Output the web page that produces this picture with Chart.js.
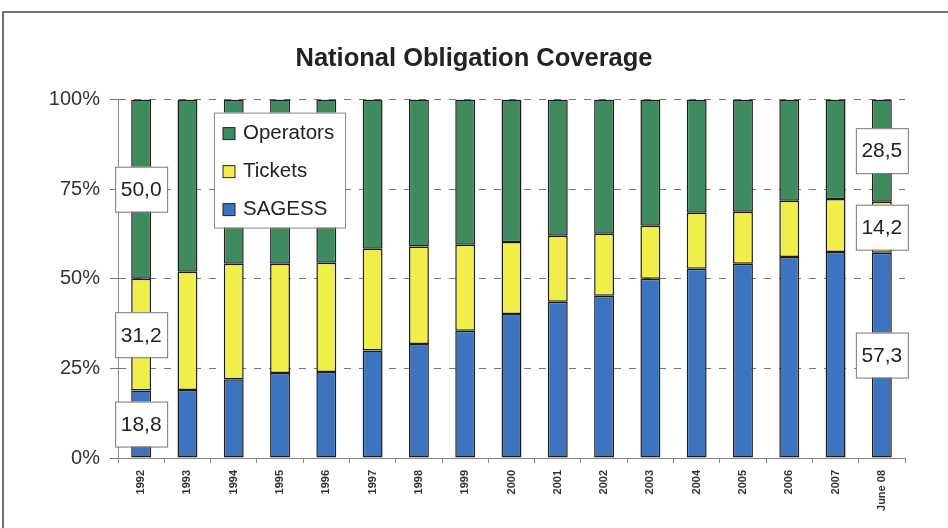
<!DOCTYPE html>
<html>
<head>
<meta charset="utf-8">
<script src="https://cdn.jsdelivr.net/npm/chart.js@4.4.0/dist/chart.umd.min.js"></script>
<style>
  html, body { margin: 0; padding: 0; background: #fff; }
  canvas { display: block; }
</style>
</head>
<body>
<canvas id="myChart" width="948" height="528"></canvas>
<script>
const years = ['1992', '1993', '1994', '1995', '1996', '1997', '1998', '1999', '2000',
  '2001', '2002', '2003', '2004', '2005', '2006', '2007', 'June 08'];
const sagess    = [18.8, 19.0, 22.0, 23.7, 24.0, 30.0, 31.8, 35.5, 40.2, 43.6, 45.3, 50.0, 52.8, 54.2, 56.1, 57.5, 57.3];
const tickets   = [31.2, 33.0, 32.2, 30.5, 30.5, 28.4, 27.2, 24.0, 20.1, 18.4, 17.3, 14.8, 15.6, 14.5, 15.7, 14.8, 14.2];
const operators = [50.0, 48.0, 45.8, 45.8, 45.5, 41.6, 41.0, 40.5, 39.7, 38.0, 37.4, 35.2, 31.6, 31.3, 28.2, 27.7, 28.5];
const yTicks = [0, 25, 50, 75, 100];
// only the first and last bars carry value boxes
const labelled = [0, years.length - 1];

const font = '"Liberation Sans", Arial, sans-serif';

// frame around the whole picture
const frame = {
  id: 'frame',
  beforeDraw(chart) {
    const ctx = chart.ctx;
    ctx.save();
    ctx.fillStyle = '#fff';
    ctx.fillRect(0, 0, chart.width, chart.height);
    ctx.strokeStyle = '#444';
    ctx.lineWidth = 1.5;
    ctx.beginPath();
    ctx.moveTo(3, chart.height);
    ctx.lineTo(3, 12);
    ctx.lineTo(chart.width, 12);
    ctx.stroke();
    ctx.restore();
  }
};

// white boxes with the values on the first and last bar
const valueBoxes = {
  id: 'valueBoxes',
  afterDatasetsDraw(chart) {
    const ctx = chart.ctx;
    ctx.save();
    ctx.font = '21px ' + font;
    ctx.textAlign = 'center';
    ctx.textBaseline = 'middle';
    chart.data.datasets.forEach((ds, di) => {
      const meta = chart.getDatasetMeta(di);
      labelled.forEach(i => {
        const bar = meta.data[i];
        const cy = (bar.y + bar.base) / 2;
        const w = 52, h = 45;
        ctx.fillStyle = '#fff';
        ctx.fillRect(bar.x - w / 2, cy - h / 2, w, h);
        ctx.strokeStyle = '#777';
        ctx.lineWidth = 1;
        ctx.strokeRect(bar.x - w / 2 + 0.5, cy - h / 2 + 0.5, w, h);
        ctx.fillStyle = '#222';
        ctx.fillText(ds.data[i].toFixed(1).replace('.', ','), bar.x, cy + 1);
      });
    });
    ctx.restore();
  }
};

// legend box inside the plot, top item = top stack
const legendBox = {
  id: 'legendBox',
  afterDatasetsDraw(chart) {
    const ctx = chart.ctx;
    const a = chart.chartArea;
    const x = a.left + 96, y = a.top + 13, w = 131, h = 115;
    ctx.save();
    ctx.fillStyle = '#fff';
    ctx.fillRect(x, y, w, h);
    ctx.strokeStyle = '#888';
    ctx.lineWidth = 1;
    ctx.strokeRect(x + 0.5, y + 0.5, w, h);
    ctx.font = '20.5px ' + font;
    ctx.textBaseline = 'middle';
    chart.data.datasets.slice().reverse().forEach((ds, i) => {
      const cy = y + 21 + i * 38;
      ctx.fillStyle = ds.backgroundColor;
      ctx.fillRect(x + 9, cy - 6, 12, 12);
      ctx.strokeStyle = '#222';
      ctx.strokeRect(x + 9, cy - 6, 12, 12);
      ctx.fillStyle = '#222';
      ctx.fillText(ds.label, x + 29, cy);
    });
    ctx.restore();
  }
};

const barStyle = {
  borderColor: '#1c1c1c',
  borderWidth: 1.5,
  borderSkipped: false,
  categoryPercentage: 1,
  barPercentage: 0.43
};

new Chart(document.getElementById('myChart'), {
  type: 'bar',
  data: {
    labels: years,
    datasets: [
      Object.assign({ label: 'SAGESS', data: sagess, backgroundColor: '#3e74bf' }, barStyle),
      Object.assign({ label: 'Tickets', data: tickets, backgroundColor: '#f0ef4a' }, barStyle),
      Object.assign({ label: 'Operators', data: operators, backgroundColor: '#3f8a5e' }, barStyle)
    ]
  },
  options: {
    responsive: false,
    animation: false,
    layout: { padding: 0 },
    plugins: {
      legend: { display: false },
      tooltip: { enabled: false },
      title: {
        display: true,
        text: 'National Obligation Coverage',
        color: '#222',
        font: { family: font, size: 25.5, weight: 'bold', lineHeight: 1.2 },
        padding: { top: 44, bottom: 25 }
      }
    },
    scales: {
      x: {
        stacked: true,
        grid: { offset: true, drawOnChartArea: false, drawTicks: true, tickLength: 5, color: '#888' },
        border: { display: true, color: '#888', width: 1 },
        ticks: {
          minRotation: 90,
          maxRotation: 90,
          padding: 7,
          color: '#333',
          font: { family: font, size: 11, weight: 'bold' }
        },
        afterFit(scale) { scale.height = 70; }
      },
      y: {
        stacked: true,
        min: 0,
        max: 100,
        afterBuildTicks(scale) { scale.ticks = yTicks.map(v => ({ value: v })); },
        grid: { color: '#777', tickLength: 8, tickBorderDash: [] },
        border: { display: true, color: '#888', width: 1, dash: [7, 8] },
        ticks: {
          padding: 10,
          color: '#333',
          font: { family: font, size: 20 },
          callback: v => v + '%'
        },
        afterFit(scale) { scale.width = 118; }
      },
      // empty right-hand axis, only keeps room on the right of the plot
      yRight: {
        position: 'right',
        min: 0,
        max: 100,
        grid: { display: false },
        border: { display: false },
        ticks: { display: false },
        afterFit(scale) { scale.width = 43; }
      }
    }
  },
  plugins: [frame, valueBoxes, legendBox]
});
</script>
</body>
</html>
